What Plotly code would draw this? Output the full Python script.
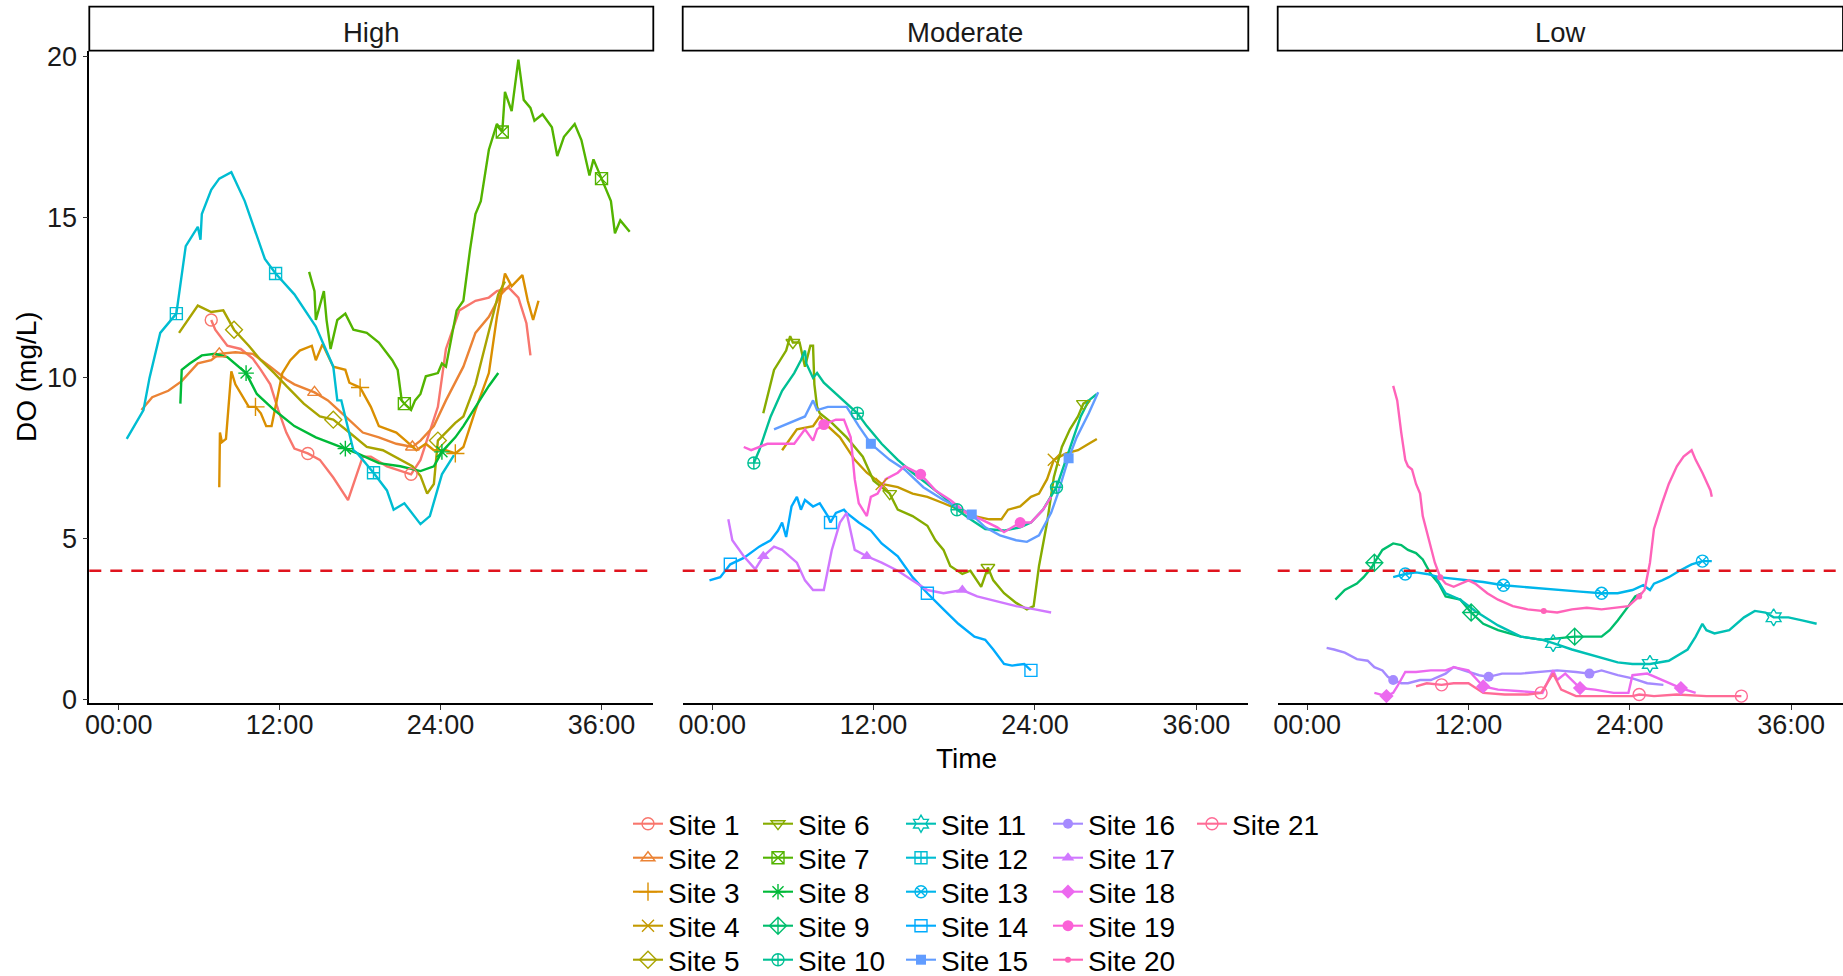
import math
import plotly.graph_objects as go

# ---------------------------------------------------------------------------
# Data: dissolved oxygen (mg/L) against elapsed time (hours) for 21 sites
# ---------------------------------------------------------------------------
PANELS = ["High", "Moderate", "Low"]
TICK_HOURS = [0, 12, 24, 36]
TICK_LABELS = ["00:00", "12:00", "24:00", "36:00"]
Y_TICKS = [0, 5, 10, 15, 20]
DO_THRESHOLD = 4

SITE_NAMES = ["Site %d" % i for i in range(1, 22)]
SITE_PANEL = ["High", "High", "High", "Moderate", "High", "Moderate", "High",
              "High", "Low", "Moderate", "Low", "High", "Low", "Moderate",
              "Moderate", "Low", "Moderate", "Low", "Moderate", "Low", "Low"]

S1_T = [6.9, 7.2, 8.1, 9.1, 10.0, 10.6, 11.3, 11.9, 12.5, 13.1, 14.1, 15.0, 16.0, 17.1, 18.2, 18.8,
        20.0, 21.8, 22.5, 23.8, 24.4, 25.4, 26.6, 27.6, 28.2, 29.1, 29.8, 30.4, 30.7]
S1_DO = [11.8, 11.5, 11.0, 10.9, 10.6, 10.25, 9.8, 9.0, 8.3, 7.8, 7.65, 7.45, 6.9, 6.2, 7.55, 7.55,
         7.25, 7.0, 7.45, 9.1, 10.9, 12.1, 12.4, 12.5, 12.7, 12.8, 12.5, 11.7, 10.7]
S1_MARK_T = [6.9, 14.1, 21.8]

S2_T = [1.7, 2.5, 3.7, 4.7, 5.9, 6.9, 7.5, 8.7, 10.0, 11.3, 12.5, 13.1, 14.6, 15.6, 16.9, 18.2,
        19.4, 20.7, 21.9, 22.5, 23.5, 24.4, 25.7, 26.6, 27.6, 28.5, 29.2]
S2_DO = [9.0, 9.4, 9.6, 9.9, 10.45, 10.55, 10.75, 10.8, 10.75, 10.35, 9.95, 9.8, 9.55, 9.3, 8.8, 8.3,
         8.15, 7.95, 7.85, 8.05, 8.5, 9.3, 10.35, 11.4, 11.9, 12.6, 12.9]
S2_MARK_T = [7.5, 14.6, 21.9]

S3_T = [7.5, 7.55, 7.7, 8.0, 8.4, 8.7, 9.7, 10.2, 10.6, 11.0, 11.4, 11.9, 12.2, 12.8, 13.5, 14.4,
        14.7, 15.2, 16.0, 16.9, 17.2, 18.0, 18.8, 19.4, 20.7, 21.4, 22.2, 22.9, 23.5, 24.4, 25.1,
        25.7, 26.6, 27.6, 28.2, 28.8, 29.3, 30.1, 30.5, 30.9, 31.3]
S3_DO = [6.6, 8.3, 8.0, 8.1, 10.2, 9.8, 9.1, 9.1, 8.9, 8.5, 8.5, 9.5, 10.15, 10.55, 10.85, 11.0,
         10.55, 11.05, 10.35, 10.25, 9.85, 9.7, 9.1, 8.5, 8.3, 8.05, 7.75, 7.95, 7.75, 7.75, 7.65,
         7.85, 9.0, 10.15, 11.9, 13.25, 12.85, 13.2, 12.4, 11.8, 12.4]
S3_MARK_T = [10.2, 18.0, 25.1]

S4_T = [5.2, 6.3, 7.5, 8.0, 8.6, 9.5, 10.6, 11.5, 12.6, 13.8, 14.9, 16.0, 17.2, 18.3, 19.5, 20.6,
        21.5, 22.0, 22.9, 23.7, 24.3, 24.9, 25.4, 26.3, 27.2, 28.0, 28.6]
S4_DO = [7.75, 8.4, 8.5, 8.8, 8.5, 8.15, 7.45, 7.05, 6.7, 6.6, 6.4, 6.3, 6.1, 5.9, 5.7, 5.6,
         5.6, 5.9, 6.0, 6.3, 6.4, 6.85, 7.45, 7.65, 7.75, 7.95, 8.1]
S4_MARK_T = [12.6, 25.4]

S5_T = [4.5, 5.9, 6.9, 7.8, 8.6, 9.7, 10.6, 11.6, 12.5, 13.8, 15.0, 16.0, 17.2, 18.5, 19.7, 21.0,
        21.9, 22.5, 23.0, 23.5, 23.8, 25.1, 25.7, 26.6, 27.6, 28.3, 28.8]
S5_DO = [11.4, 12.25, 12.05, 12.1, 11.5, 11.0, 10.55, 10.15, 9.75, 9.2, 8.8, 8.7, 8.3, 7.85, 7.75, 7.45,
         7.25, 6.95, 6.4, 6.7, 8.05, 8.6, 8.8, 9.8, 11.4, 12.6, 13.0]
S5_MARK_T = [8.6, 16.0, 23.8]

S6_T = [3.8, 4.6, 5.5, 5.8, 6.0, 6.5, 6.9, 7.3, 7.5, 7.6, 7.8, 8.0, 8.9, 10.0, 11.2, 12.0, 13.2,
        13.8, 14.9, 16.0, 16.6, 17.2, 17.7, 18.6, 19.2, 20.0, 20.5, 20.9, 21.7, 22.6, 23.4, 23.9,
        24.3, 24.9, 25.4, 26.0, 26.6, 27.2, 27.6, 28.0]
S6_DO = [8.9, 10.25, 10.85, 11.3, 11.1, 11.1, 10.35, 11.0, 11.0, 9.8, 9.1, 8.9, 8.6, 8.15, 7.55, 6.8,
         6.4, 5.9, 5.7, 5.4, 4.95, 4.65, 4.15, 3.9, 4.0, 3.5, 4.1, 3.7, 3.3, 3.0, 2.8, 2.9,
         4.15, 5.5, 6.9, 7.85, 8.4, 8.8, 9.2, 9.3]
S6_MARK_T = [6.0, 13.2, 20.5, 27.6]

S7_T = [14.2, 14.6, 14.7, 15.3, 15.5, 15.8, 16.3, 16.9, 17.5, 18.5, 19.4, 20.4, 20.8, 21.1, 21.3,
        21.8, 22.1, 22.5, 22.9, 23.8, 24.1, 24.4, 25.2, 25.7, 26.2, 26.6, 27.0, 27.6, 28.2, 28.6,
        28.8, 29.3, 29.8, 30.2, 30.7, 31.0, 31.6, 32.3, 32.7, 33.2, 34.0, 34.5, 35.1, 35.4, 36.0,
        36.7, 37.0, 37.4, 38.1]
S7_DO = [13.3, 12.7, 11.8, 12.7, 11.8, 10.9, 11.8, 12.0, 11.5, 11.4, 11.1, 10.55, 10.25, 9.3, 9.2,
         9.0, 9.3, 9.5, 10.05, 10.15, 10.45, 10.35, 12.1, 12.4, 14.0, 15.1, 15.5, 17.1, 17.9, 17.65,
         18.9, 18.3, 19.9, 18.65, 18.4, 18.0, 18.2, 17.8, 16.9, 17.5, 17.9, 17.4, 16.3, 16.8, 16.2,
         15.5, 14.5, 14.9, 14.55]
S7_MARK_T = [21.3, 28.6, 36.0]

S8_T = [4.6, 4.7, 5.3, 6.2, 7.2, 8.1, 9.5, 10.3, 11.6, 13.1, 14.7, 16.3, 16.9, 17.8, 19.4, 21.0,
        22.5, 23.5, 24.1, 25.1, 25.7, 26.6, 27.6, 28.3]
S8_DO = [9.2, 10.25, 10.45, 10.7, 10.75, 10.65, 10.15, 9.5, 9.0, 8.5, 8.15, 7.9, 7.8, 7.65, 7.35, 7.25,
         7.1, 7.25, 7.7, 8.15, 8.5, 9.1, 9.75, 10.15]
S8_MARK_T = [9.5, 16.9, 24.1]

S9_T = [2.1, 2.8, 3.7, 4.2, 4.8, 5.0, 5.6, 6.4, 7.0, 7.5, 8.1, 8.6, 9.2, 9.8, 10.3, 11.4, 12.2,
        13.1, 14.2, 15.9, 17.5, 18.6, 19.9, 20.8, 21.9, 22.5, 23.1, 23.9, 24.4, 24.9]
S9_DO = [3.1, 3.4, 3.6, 3.8, 4.1, 4.25, 4.65, 4.85, 4.8, 4.65, 4.55, 4.35, 3.9, 3.6, 3.2, 3.1, 2.7,
         2.35, 2.15, 1.95, 1.85, 1.9, 1.95, 1.95, 1.95, 2.15, 2.45, 2.9, 3.2, 3.3]
S9_MARK_T = [5.0, 12.2, 19.9]

S10_T = [3.1, 3.5, 4.35, 5.2, 6.1, 6.6, 6.9, 7.0, 7.5, 7.8, 8.3, 9.2, 10.0, 10.8, 11.5, 12.6, 13.8,
         14.9, 16.0, 17.2, 18.2, 19.2, 20.3, 21.7, 22.9, 23.7, 24.6, 25.6, 26.3, 26.9, 27.4, 28.0, 28.6]
S10_DO = [7.35, 7.75, 8.8, 9.6, 10.15, 10.55, 10.85, 10.45, 10.0, 10.15, 9.85, 9.5, 9.2, 8.9, 8.5, 7.95,
          7.45, 7.05, 6.7, 6.3, 5.9, 5.6, 5.3, 5.25, 5.35, 5.5, 5.9, 6.6, 7.45, 8.15, 8.8, 9.3, 9.5]
S10_MARK_T = [3.1, 10.8, 18.2, 25.6]

S11_T = [9.5, 10.3, 11.4, 12.5, 14.2, 15.9, 17.5, 18.3, 19.7, 21.4, 23.1, 24.2, 25.5, 26.9, 28.3,
         28.9, 29.4, 29.7, 30.3, 31.4, 32.5, 33.3, 34.1, 34.7, 35.8, 36.9, 37.9]
S11_DO = [3.85, 3.3, 3.1, 2.75, 2.3, 1.95, 1.85, 1.75, 1.55, 1.35, 1.15, 1.1, 1.1, 1.2, 1.55,
          1.95, 2.35, 2.15, 2.05, 2.15, 2.55, 2.75, 2.7, 2.55, 2.55, 2.45, 2.35]
S11_MARK_T = [18.3, 25.5, 34.7]

S12_T = [0.6, 1.85, 2.3, 2.5, 3.1, 4.3, 5.0, 5.9, 6.1, 6.2, 6.9, 7.5, 8.4, 9.4, 10.9, 11.7, 13.1,
         14.7, 16.0, 16.3, 16.6, 17.5, 17.8, 19.0, 20.0, 20.5, 21.3, 22.5, 23.2, 24.1, 25.0]
S12_DO = [8.1, 9.0, 10.0, 10.35, 11.4, 12.0, 14.1, 14.7, 14.3, 15.1, 15.85, 16.2, 16.4, 15.5, 13.7,
          13.25, 12.6, 11.6, 10.35, 9.3, 9.3, 7.75, 7.65, 7.05, 6.5, 5.9, 6.1, 5.45, 5.7, 7.0, 7.6]
S12_MARK_T = [4.3, 11.7, 19.0]

S13_T = [6.4, 7.3, 8.1, 8.9, 9.8, 10.9, 12.0, 13.1, 14.6, 15.9, 17.5, 18.6, 20.3, 21.9, 23.1, 24.2,
         25.0, 25.5, 25.8, 26.4, 26.9, 27.7, 28.6, 29.4, 30.1]
S13_DO = [3.8, 3.9, 3.95, 3.9, 3.8, 3.75, 3.7, 3.65, 3.55, 3.5, 3.45, 3.4, 3.35, 3.3, 3.3, 3.4,
          3.55, 3.4, 3.6, 3.7, 3.8, 4.0, 4.2, 4.3, 4.3]
S13_MARK_T = [7.3, 14.6, 21.9, 29.4]

S14_T = [-0.2, 0.6, 1.35, 2.35, 3.5, 4.35, 4.9, 5.2, 5.5, 5.9, 6.3, 6.6, 6.9, 7.5, 8.0, 8.6, 8.8,
         9.2, 9.8, 10.0, 10.9, 11.8, 12.6, 13.8, 14.9, 16.0, 17.2, 18.3, 19.5, 20.3, 20.9, 21.7,
         22.3, 23.2, 23.7]
S14_DO = [3.7, 3.8, 4.2, 4.4, 4.75, 4.95, 5.25, 5.5, 5.05, 6.0, 6.3, 5.9, 6.2, 6.0, 6.1, 5.7, 5.5,
          5.8, 5.9, 5.8, 5.5, 5.25, 4.85, 4.45, 3.8, 3.3, 2.8, 2.35, 1.95, 1.85, 1.55, 1.1,
          1.05, 1.1, 0.9]
S14_MARK_T = [1.35, 8.8, 16.0, 23.7]

S15_T = [4.6, 5.8, 6.9, 7.5, 7.8, 8.6, 10.0, 10.9, 11.8, 13.2, 14.3, 15.7, 17.2, 18.6, 19.3, 20.3,
         21.4, 22.6, 23.4, 24.3, 25.2, 25.7, 26.5, 27.1, 28.0, 28.7]
S15_DO = [8.4, 8.6, 8.8, 9.3, 9.0, 9.1, 9.1, 8.5, 7.95, 7.45, 7.15, 6.6, 6.2, 5.9, 5.75, 5.35,
          5.1, 4.95, 4.9, 5.1, 5.8, 6.4, 7.5, 8.15, 8.9, 9.55]
S15_MARK_T = [11.8, 19.3, 26.5]

S16_T = [1.45, 2.0, 2.8, 3.7, 4.5, 5.0, 5.6, 6.0, 6.4, 7.0, 7.5, 8.4, 9.2, 10.3, 10.9, 11.7, 12.8,
         13.5, 14.5, 15.9, 17.2, 18.6, 20.0, 21.0, 21.9, 23.1, 24.2, 25.3, 26.5]
S16_DO = [1.6, 1.55, 1.45, 1.25, 1.2, 1.0, 0.9, 0.7, 0.6, 0.5, 0.5, 0.6, 0.6, 0.8, 1.0, 0.9, 0.75,
          0.7, 0.8, 0.8, 0.85, 0.9, 0.85, 0.8, 0.9, 0.75, 0.65, 0.5, 0.45]
S16_MARK_T = [6.4, 13.5, 21.0]

S17_T = [1.2, 1.5, 2.35, 3.2, 3.8, 4.6, 5.2, 6.3, 6.9, 7.5, 8.3, 8.9, 9.5, 10.0, 10.6, 11.5, 12.6,
         13.8, 14.9, 16.0, 17.2, 18.6, 19.7, 21.2, 22.6, 24.0, 25.2]
S17_DO = [5.6, 4.95, 4.45, 4.05, 4.45, 4.75, 4.65, 4.25, 3.7, 3.4, 3.4, 4.65, 5.5, 5.8, 4.65, 4.45, 4.25,
          4.0, 3.7, 3.4, 3.3, 3.4, 3.2, 3.05, 2.9, 2.8, 2.7]
S17_MARK_T = [3.8, 11.5, 18.6]

S18_T = [5.0, 5.9, 6.4, 6.7, 7.3, 8.1, 9.2, 10.3, 10.9, 12.0, 13.1, 14.2, 15.9, 17.5, 18.3, 18.6,
         19.2, 20.3, 21.4, 22.8, 23.9, 24.2, 25.3, 26.4, 27.8, 28.9]
S18_DO = [0.2, 0.1, 0.2, 0.4, 0.85, 0.85, 0.9, 0.9, 1.0, 0.9, 0.4, 0.3, 0.25, 0.2, 0.9, 0.6,
          0.8, 0.35, 0.3, 0.2, 0.2, 0.75, 0.8, 0.6, 0.35, 0.2]
S18_MARK_T = [5.9, 13.1, 20.3, 27.8]

S19_T = [2.35, 2.9, 4.1, 5.2, 6.1, 6.9, 7.5, 7.8, 8.3, 9.2, 9.8, 10.3, 10.6, 10.9, 11.5, 11.8, 12.3,
         12.9, 13.8, 14.3, 15.5, 16.6, 17.7, 18.9, 20.0, 21.2, 21.7, 22.9, 23.7, 24.6, 25.2]
S19_DO = [7.85, 7.75, 7.95, 7.95, 7.95, 8.4, 8.05, 8.4, 8.55, 8.7, 8.7, 8.15, 6.85, 6.1, 5.7, 6.3, 6.4,
          6.85, 7.05, 7.25, 7.0, 6.5, 6.2, 5.8, 5.6, 5.35, 5.2, 5.5, 5.5, 5.9, 6.3]
S19_MARK_T = [8.3, 15.5, 22.9]

S20_T = [6.4, 6.7, 7.0, 7.3, 7.5, 7.8, 8.1, 8.4, 8.6, 9.1, 9.5, 9.9, 10.3, 10.9, 11.4, 12.0, 12.5,
         13.4, 14.2, 15.3, 16.4, 17.6, 18.6, 19.7, 20.8, 21.9, 23.1, 23.9, 24.7, 25.1, 25.5, 25.8,
         26.4, 26.9, 27.5, 28.0, 28.6, 28.9, 29.4, 30.0, 30.1]
S20_DO = [9.75, 9.3, 8.3, 7.45, 7.25, 7.15, 6.7, 6.4, 5.7, 4.85, 4.25, 3.8, 3.6, 3.5, 3.6, 3.7, 3.6,
          3.3, 3.1, 2.9, 2.8, 2.75, 2.7, 2.8, 2.85, 2.8, 2.85, 2.9, 3.2, 3.4, 4.25, 5.3,
          6.1, 6.7, 7.25, 7.55, 7.75, 7.45, 7.05, 6.5, 6.3]
S20_MARK_T = [9.9, 17.6, 24.7]

S21_T = [8.1, 8.9, 10.0, 10.9, 12.0, 13.1, 14.7, 16.4, 17.4, 18.3, 18.9, 20.0, 21.4, 23.1, 24.2,
         24.7, 25.8, 27.5, 29.7, 32.3]
S21_DO = [0.4, 0.5, 0.45, 0.5, 0.5, 0.2, 0.15, 0.15, 0.2, 0.8, 0.3, 0.1, 0.1, 0.1, 0.1,
          0.15, 0.1, 0.15, 0.1, 0.1]
S21_MARK_T = [10.0, 17.4, 24.7, 32.3]

SERIES = [
    (S1_T, S1_DO, S1_MARK_T), (S2_T, S2_DO, S2_MARK_T), (S3_T, S3_DO, S3_MARK_T),
    (S4_T, S4_DO, S4_MARK_T), (S5_T, S5_DO, S5_MARK_T), (S6_T, S6_DO, S6_MARK_T),
    (S7_T, S7_DO, S7_MARK_T), (S8_T, S8_DO, S8_MARK_T), (S9_T, S9_DO, S9_MARK_T),
    (S10_T, S10_DO, S10_MARK_T), (S11_T, S11_DO, S11_MARK_T), (S12_T, S12_DO, S12_MARK_T),
    (S13_T, S13_DO, S13_MARK_T), (S14_T, S14_DO, S14_MARK_T), (S15_T, S15_DO, S15_MARK_T),
    (S16_T, S16_DO, S16_MARK_T), (S17_T, S17_DO, S17_MARK_T), (S18_T, S18_DO, S18_MARK_T),
    (S19_T, S19_DO, S19_MARK_T), (S20_T, S20_DO, S20_MARK_T), (S21_T, S21_DO, S21_MARK_T),
]


# ---------------------------------------------------------------------------
# Styling helpers
# ---------------------------------------------------------------------------
def hcl_hex(h, c=100.0, l=65.0):
    """Polar CIE-LUV -> sRGB hex (same maths as R's grDevices::hcl)."""
    wy, wu, wv = 100.0, 0.1978398, 0.4683363
    hr = math.radians(h)
    U, V = c * math.cos(hr), c * math.sin(hr)
    Y = wy * (((l + 16) / 116) ** 3 if l > 7.999592 else l / 903.3)
    u = U / (13 * l) + wu
    v = V / (13 * l) + wv
    X = 9.0 * Y * u / (4 * v)
    Z = -X / 3 - 5 * Y + 3 * Y / v

    def gam(t):
        return 1.055 * t ** (1 / 2.4) - 0.055 if t > 0.00304 else 12.92 * t

    r = gam((3.240479 * X - 1.537150 * Y - 0.498535 * Z) / wy)
    g = gam((-0.969256 * X + 1.875992 * Y + 0.041556 * Z) / wy)
    b = gam((0.055648 * X - 0.204043 * Y + 1.057311 * Z) / wy)
    return "#%02X%02X%02X" % tuple(int(round(255 * min(1, max(0, t)))) for t in (r, g, b))


def hue_palette(n):
    step = 360.0 / n
    return [hcl_hex(15 + i * step) for i in range(n)]


COLORS = hue_palette(21)
SYMBOLS = ["circle-open", "triangle-up-open", "cross-thin-open", "x-thin-open", "diamond-open",
           "triangle-down-open", "square-x-open", "asterisk-open", "diamond-cross-open",
           "circle-cross-open", "hexagram-open", "square-cross-open", "circle-x-open",
           "square-open", "square", "circle", "triangle-up", "diamond", "circle", "circle",
           "circle-open"]
SIZES = [12, 12, 13, 12, 13, 12, 12, 13, 13, 12, 13, 12, 12, 12, 10, 10, 11, 11, 11, 6, 12]

FONT = "Arial, Liberation Sans, sans-serif"
W, H = 1843, 976

# panel geometry in pixels
PANEL_X = [(89.3, 653.3), (682.7, 1248.3), (1277.7, 1843.0)]
PANEL_TOP, PANEL_BOTTOM = 50.7, 703.3
STRIP_TOP = 6.7
X_RANGE = [-2.19, 39.86]
Y_RANGE = [-0.124, 20.18]

# legend grid: five columns, five rows (text start x, row centre y)
LEGEND_TEXT_X = [668, 798, 941, 1088, 1232]
LEGEND_ROW_Y = [824, 858, 892, 926, 960]

fig = go.Figure()

axis_of = {"High": ("x", "y"), "Moderate": ("x2", "y2"), "Low": ("x3", "y3")}

# lines first, then point symbols on top of all lines
for i, (t, do, _) in enumerate(SERIES):
    xa, ya = axis_of[SITE_PANEL[i]]
    fig.add_trace(go.Scatter(
        x=t, y=do, mode="lines", xaxis=xa, yaxis=ya, showlegend=False,
        line=dict(color=COLORS[i], width=2.4), hoverinfo="skip"))

for i, (t, do, mark_t) in enumerate(SERIES):
    xa, ya = axis_of[SITE_PANEL[i]]
    idx = [min(range(len(t)), key=lambda k: abs(t[k] - m)) for m in mark_t]
    is_open = SYMBOLS[i].endswith("-open")
    fig.add_trace(go.Scatter(
        x=[t[k] for k in idx], y=[do[k] for k in idx], mode="markers",
        xaxis=xa, yaxis=ya, showlegend=False, name=SITE_NAMES[i],
        marker=dict(symbol=SYMBOLS[i], size=SIZES[i], color=COLORS[i],
                    line=dict(color=COLORS[i], width=1.4 if is_open else 0))))

# legend keys: one single-entry legend per site, laid out column by column
legend_layout = {}
for i in range(21):
    lid = "legend" if i == 0 else "legend%d" % (i + 1)
    col, row = divmod(i, 5)
    is_open = SYMBOLS[i].endswith("-open")
    fig.add_trace(go.Scatter(
        x=[None], y=[None], mode="lines+markers", name=SITE_NAMES[i],
        legend=lid, showlegend=True, xaxis="x", yaxis="y",
        line=dict(color=COLORS[i], width=2.1),
        marker=dict(symbol=SYMBOLS[i], size=SIZES[i], color=COLORS[i],
                    line=dict(color=COLORS[i], width=1.4 if is_open else 0))))
    legend_layout[lid] = dict(
        x=(LEGEND_TEXT_X[col] - 40) / W, xanchor="left",
        y=1 - LEGEND_ROW_Y[row] / H, yanchor="middle",
        orientation="v", font=dict(family=FONT, size=28, color="black"),
        bgcolor="rgba(0,0,0,0)", borderwidth=0, tracegroupgap=0, itemwidth=30)

y_dom = [1 - PANEL_BOTTOM / H, 1 - PANEL_TOP / H]
layout = dict(
    width=W, height=H, margin=dict(l=0, r=0, t=0, b=0, autoexpand=False),
    paper_bgcolor="white", plot_bgcolor="white",
    font=dict(family=FONT, color="black"),
    showlegend=True,
)
layout.update(legend_layout)

shapes = []
annotations = []
for p, (x0, x1) in enumerate(PANEL_X):
    sfx = "" if p == 0 else str(p + 1)
    layout["xaxis" + sfx] = dict(
        domain=[x0 / W, x1 / W], range=X_RANGE, anchor="y" + sfx,
        tickvals=TICK_HOURS, ticktext=TICK_LABELS, ticks="outside", ticklen=5,
        tickwidth=1.3, tickcolor="#333333", showline=True, linecolor="black", linewidth=1.5,
        ticklabelstandoff=-8,
        showgrid=False, zeroline=False, tickfont=dict(family=FONT, size=27, color="#1A1A1A"),
        fixedrange=True)
    ydict = dict(domain=y_dom, range=Y_RANGE, anchor="x" + sfx, showgrid=False,
                 zeroline=False, fixedrange=True)
    if p == 0:
        ydict.update(tickvals=Y_TICKS, ticks="outside", ticklen=5, tickwidth=1.3,
                     tickcolor="#333333", showline=True, linecolor="black", linewidth=1.5,
                     tickfont=dict(family=FONT, size=27, color="#1A1A1A"))
    else:
        ydict.update(showticklabels=False, ticks="", showline=False, matches="y")
    layout["yaxis" + sfx] = ydict

    # facet strip
    shapes.append(dict(type="rect", xref="paper", yref="paper",
                       x0=x0 / W, x1=x1 / W, y0=1 - PANEL_TOP / H, y1=1 - STRIP_TOP / H,
                       fillcolor="white", line=dict(color="black", width=1.8), layer="above"))
    annotations.append(dict(text=PANELS[p], xref="paper", yref="paper",
                            x=(x0 + x1) / 2 / W, y=1 - ((PANEL_TOP + STRIP_TOP) / 2 + 3.5) / H,
                            xanchor="center", yanchor="middle", showarrow=False,
                            font=dict(family=FONT, size=27.5, color="#1A1A1A")))
    # hypoxia threshold
    shapes.append(dict(type="line", xref="x" + sfx + " domain", yref="y" + sfx,
                       x0=0, x1=1, y0=DO_THRESHOLD, y1=DO_THRESHOLD,
                       line=dict(color="#E0141E", width=2.6, dash="12px,9px"), layer="above"))

annotations.append(dict(text="DO (mg/L)", xref="paper", yref="paper", x=26 / W,
                        y=1 - (PANEL_TOP + PANEL_BOTTOM) / 2 / H, textangle=-90,
                        xanchor="center", yanchor="middle", showarrow=False,
                        font=dict(family=FONT, size=28, color="black")))
annotations.append(dict(text="Time", xref="paper", yref="paper",
                        x=(PANEL_X[0][0] + PANEL_X[2][1]) / 2 / W, y=1 - 758 / H,
                        xanchor="center", yanchor="middle", showarrow=False,
                        font=dict(family=FONT, size=28, color="black")))

layout["shapes"] = shapes
layout["annotations"] = annotations
fig.update_layout(**layout)

fig.write_html("out.html", config={"displayModeBar": False})
